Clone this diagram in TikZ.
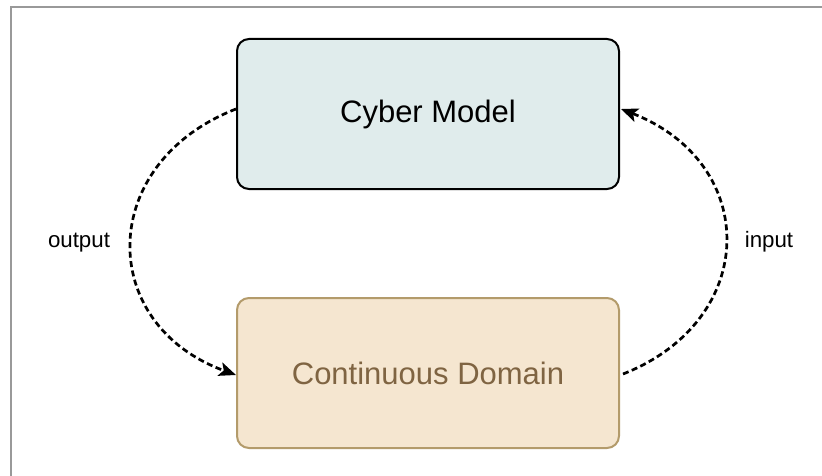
\documentclass[tikz,border=0pt]{standalone}
\usepackage{fontspec}
\setmainfont{Liberation Sans}
\usetikzlibrary{arrows.meta}

\definecolor{cyberfill}{HTML}{E0ECEC}
\definecolor{contfill}{HTML}{F5E6D0}
\definecolor{contline}{HTML}{B39B6B}
\definecolor{conttext}{HTML}{7F6442}
\definecolor{framegray}{HTML}{999999}

\begin{document}
\begin{tikzpicture}[x=1pt, y=-1pt,
  blockbox/.style={draw, rounded corners=12pt, line width=2pt,
    minimum width=382pt, minimum height=150pt, inner sep=0pt,
    font=\fontsize{31}{37}\selectfont},
  flow/.style={line width=2.7pt, dash pattern=on 6pt off 3.5pt,
    -{Stealth[length=17pt,width=14pt,inset=4pt]}},
  tag/.style={anchor=base, inner sep=0pt, font=\fontsize{22.3}{27}\selectfont}]

  \useasboundingbox (0,0) rectangle (822,476);
  \draw[framegray, line width=1.8pt] (11,476) -- (11,7) -- (822,7);

  \node[blockbox, fill=cyberfill] (cyber) at (428,114) {Cyber Model};
  \node[blockbox, fill=contfill, draw=contline, text=conttext] (cont) at (428,373) {Continuous Domain};

  % output: from the cyber model down to the continuous domain
  \draw[flow] ([yshift=5pt]cyber.west) .. controls +(-139,54) and +(-140,-51) .. ([yshift=-2pt]cont.west);
  % input: from the continuous domain back up to the cyber model
  \draw[flow] ([yshift=-1pt,xshift=3pt]cont.east) .. controls +(137,-54) and +(139,54) .. ([yshift=5pt,xshift=1pt]cyber.east);

  \node[tag] (out) at (79,247) {output};
  \node[tag] (in) at (769,247) {input};
\end{tikzpicture}
\end{document}
